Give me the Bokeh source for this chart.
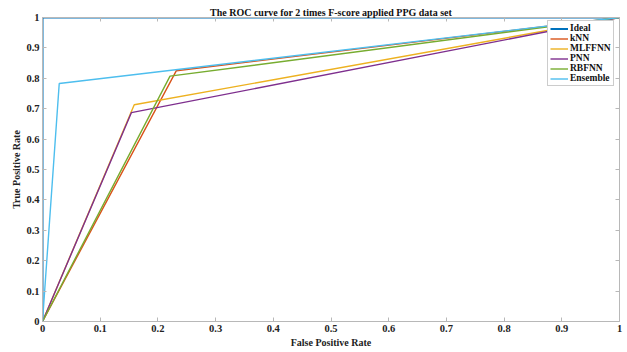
from bokeh.plotting import figure
from bokeh.models import LinearAxis, Legend, LegendItem, FixedTicker, Range1d
from bokeh.embed import file_html
from bokeh.resources import INLINE

series_names = ["Ideal", "kNN", "MLFFNN", "PNN", "RBFNN", "Ensemble"]
colors = ["#0072BD", "#D95319", "#EDB120", "#7E2F8E", "#77AC30", "#4DBEEE"]
fpr = {
    "Ideal": [0, 0, 1],
    "kNN": [0, 0.232, 1],
    "MLFFNN": [0, 0.159, 1],
    "PNN": [0, 0.154, 1],
    "RBFNN": [0, 0.221, 1],
    "Ensemble": [0, 0.029, 1],
}
tpr = {
    "Ideal": [0, 1, 1],
    "kNN": [0, 0.825, 1],
    "MLFFNN": [0, 0.713, 1],
    "PNN": [0, 0.687, 1],
    "RBFNN": [0, 0.807, 1],
    "Ensemble": [0, 0.783, 1],
}
ticks = [0, 0.1, 0.2, 0.3, 0.4, 0.5, 0.6, 0.7, 0.8, 0.9, 1]
tick_labels = {0: "0", 0.1: "0.1", 0.2: "0.2", 0.3: "0.3", 0.4: "0.4", 0.5: "0.5",
               0.6: "0.6", 0.7: "0.7", 0.8: "0.8", 0.9: "0.9", 1: "1"}

FONT = "Liberation Serif"
GRAY = "#b8b8b8"

p = figure(width=627, height=352, output_backend="svg", toolbar_location=None,
           x_range=Range1d(0, 1), y_range=Range1d(0, 1),
           min_border_left=42, min_border_right=8, min_border_top=17, min_border_bottom=31,
           title="The ROC curve for 2 times F-score applied PPG data set")
p.title.align = "center"
p.title.text_font = FONT
p.title.text_font_size = "10px"
p.title.text_font_style = "bold"
p.title.text_color = "#111111"
p.title.standoff = 0
p.title.offset = 0
p.outline_line_color = None
p.xgrid.visible = False
p.ygrid.visible = False

for ax in (p.xaxis[0], p.yaxis[0]):
    ax.ticker = FixedTicker(ticks=ticks)
    ax.major_label_overrides = tick_labels
    ax.major_label_text_font = FONT
    ax.major_label_text_font_size = "10.5px"
    ax.major_label_text_font_style = "bold"
    ax.axis_label_text_font = FONT
    ax.axis_label_text_font_size = "10px"
    ax.axis_label_text_font_style = "bold"
    ax.axis_label_text_color = "#222222"
    ax.major_label_text_color = "#222222"
    ax.major_tick_in = 4
    ax.major_tick_out = 0
    ax.minor_tick_line_color = None
    ax.axis_line_color = GRAY
    ax.major_tick_line_color = GRAY
    ax.major_label_standoff = 3
p.xaxis.axis_label = "False Positive Rate"
p.yaxis.axis_label = "True Positive Rate"
p.xaxis.axis_label_standoff = 2
p.yaxis.axis_label_standoff = 1

for loc in ("above", "right"):
    ax = LinearAxis(ticker=FixedTicker(ticks=ticks), major_label_text_color=None,
                    major_tick_in=4, major_tick_out=0, minor_tick_line_color=None,
                    axis_line_color=GRAY, major_tick_line_color=GRAY, major_label_standoff=0)
    p.add_layout(ax, loc)

renderers = {}
for name, c in zip(series_names, colors):
    lw = 2 if name == "Ideal" else 1.4
    renderers[name] = p.line(fpr[name], tpr[name], line_color=c, line_width=lw)
items = [LegendItem(label=name, renderers=[renderers[name]]) for name in series_names]

legend = Legend(items=items, location=(505, 235))
legend.label_text_font = FONT
legend.label_text_font_size = "9.5px"
legend.label_text_font_style = "bold"
legend.label_text_color = "#111111"
legend.label_height = 9
legend.glyph_height = 9
legend.glyph_width = 18
legend.spacing = 0
legend.padding = 2
legend.margin = 0
legend.label_standoff = 2
legend.border_line_color = "#999999"
legend.background_fill_alpha = 1
p.add_layout(legend, "center")

open("out.html", "w").write(file_html(p, INLINE))
